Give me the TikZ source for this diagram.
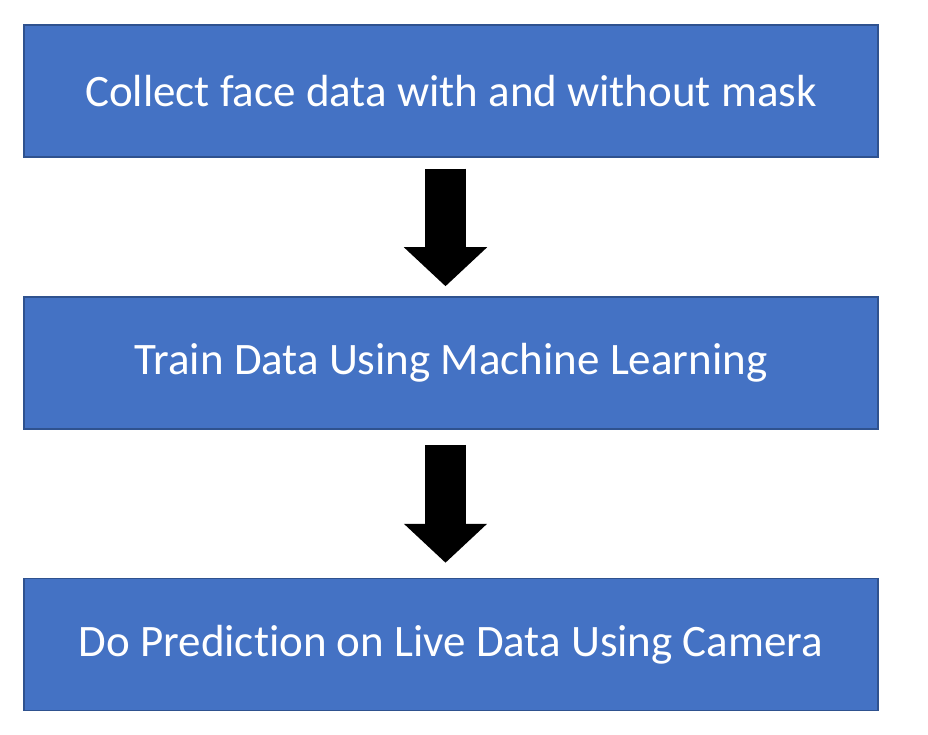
\documentclass[tikz,border=0pt]{standalone}
\usepackage{fontspec}
\setmainfont{Carlito}[Ligatures=NoCommon]
\usepackage{xcolor}
\usetikzlibrary{arrows.meta,positioning,calc}
\definecolor{stepblue}{HTML}{4472C4}
\definecolor{stepedge}{HTML}{2F528F}
\tikzset{
  stepbox/.style={rectangle,draw=stepedge,line width=1.5pt,fill=stepblue,
                  minimum width=854pt,minimum height=132pt,inner sep=0pt,
                  text=white,font=\fontsize{45}{54}\selectfont},
  blockarr/.style={draw=black,line width=41pt,
                   -{Triangle[width=81pt,length=39pt]}},
}
\begin{document}
\begin{tikzpicture}[x=1pt,y=1pt]
  \useasboundingbox (0,0) rectangle (928,-735);
  % --- boxes ---
  \node[stepbox] (collect) at (451, -91)   {Collect face data with and without mask};
  \node[stepbox] (train)   at (451,-363)   {Train Data Using Machine Learning};
  \node[stepbox] (predict) at (451,-644.5) {Do Prediction on Live Data Using Camera};
  % --- arrows ---
  \draw[blockarr,shorten <=11pt,shorten >=10pt]
    ([xshift=-5.5pt]collect.south) -- ([xshift=-5.5pt]train.north);
  \draw[blockarr,shorten <=15pt,shorten >=15pt]
    ([xshift=-5.5pt]train.south) -- ([xshift=-5.5pt]predict.north);
\end{tikzpicture}
\end{document}
